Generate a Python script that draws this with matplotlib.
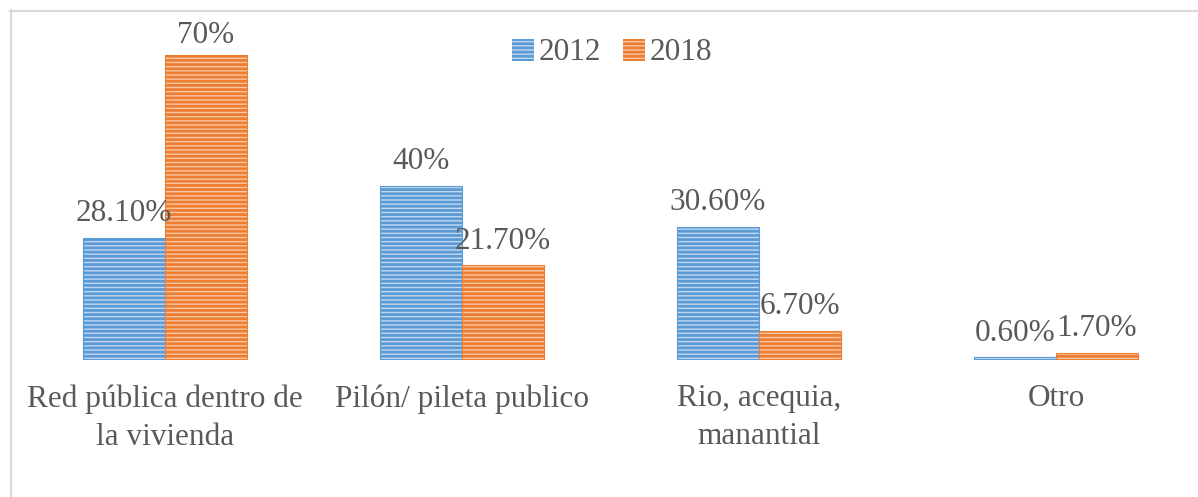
import numpy as np
import matplotlib.pyplot as plt
from matplotlib.lines import Line2D
from matplotlib.patches import Patch

plt.rcParams['font.family'] = ['Liberation Serif', 'DejaVu Serif']
plt.rcParams['hatch.linewidth'] = 2.0

categories = ['Red pública dentro de\nla vivienda', 'Pilón/ pileta publico',
              'Rio, acequia,\nmanantial', 'Otro']
v2012 = [28.1, 40.0, 30.6, 0.6]
v2018 = [70.0, 21.7, 6.7, 1.7]
lab2012 = ['28.10%', '40%', '30.60%', '0.60%']
lab2018 = ['70%', '21.70%', '6.70%', '1.70%']

W, H = 1198, 497
fig = plt.figure(figsize=(W / 100, H / 100), dpi=100)
# baseline at y=360 px, 1% = 305/70 px
base = 360
pp = 305 / 70.0
top_val = 80
ax = fig.add_axes([0, (H - base) / H, 1, top_val * pp / H])
ax.set_xlim((0 - 165) / 297, (W - 165) / 297)
ax.set_ylim(0, top_val)
ax.axis('off')

x = np.arange(len(categories))
w = 0.276
blue, orange = '#5b9bd5', '#ed7d31'
lblue, lorange = '#c3d8f0', '#f8c6a4'
ax.bar(x - w / 2, v2012, w, color=lblue, edgecolor=blue, hatch='----', linewidth=0.8)
ax.bar(x + w / 2, v2018, w, color=lorange, edgecolor=orange, hatch='----', linewidth=0.8)

txt = '#595959'
fs = 22.5
off = 24 / pp
cap = (base - 35) / pp
for xi, v, l in zip(x, v2012, lab2012):
    ax.text(xi - w / 2, min(v + off, cap), l, ha='center', va='center', fontsize=fs, color=txt)
for xi, v, l in zip(x, v2018, lab2018):
    ax.text(xi + w / 2, min(v + off, cap), l, ha='center', va='center', fontsize=fs, color=txt)

for xi, c in zip(x, categories):
    fig.text((165 + 297 * xi) / W, 1 - 384 / H, c, ha='center', va='top', fontsize=fs,
             color=txt, linespacing=1.42)

# legend
handles = [Patch(facecolor=lblue, edgecolor=blue, hatch='----', linewidth=0),
           Patch(facecolor=lorange, edgecolor=orange, hatch='----', linewidth=0)]
fig.legend(handles, ['2012', '2018'], loc='center', bbox_to_anchor=(612 / W, 1 - 53 / H),
           ncol=2, frameon=False, fontsize=fs, handlelength=0.7, handleheight=0.7,
           handletextpad=0.15, columnspacing=0.7, labelcolor=txt)

# chart border
fig.add_artist(Line2D([10 / W, 1], [1 - 10.5 / H, 1 - 10.5 / H], color='#d9d9d9', lw=1.5))
fig.add_artist(Line2D([10.5 / W, 10.5 / W], [0, 1 - 10 / H], color='#d9d9d9', lw=1.5))

fig.savefig('out.png', dpi=100)
